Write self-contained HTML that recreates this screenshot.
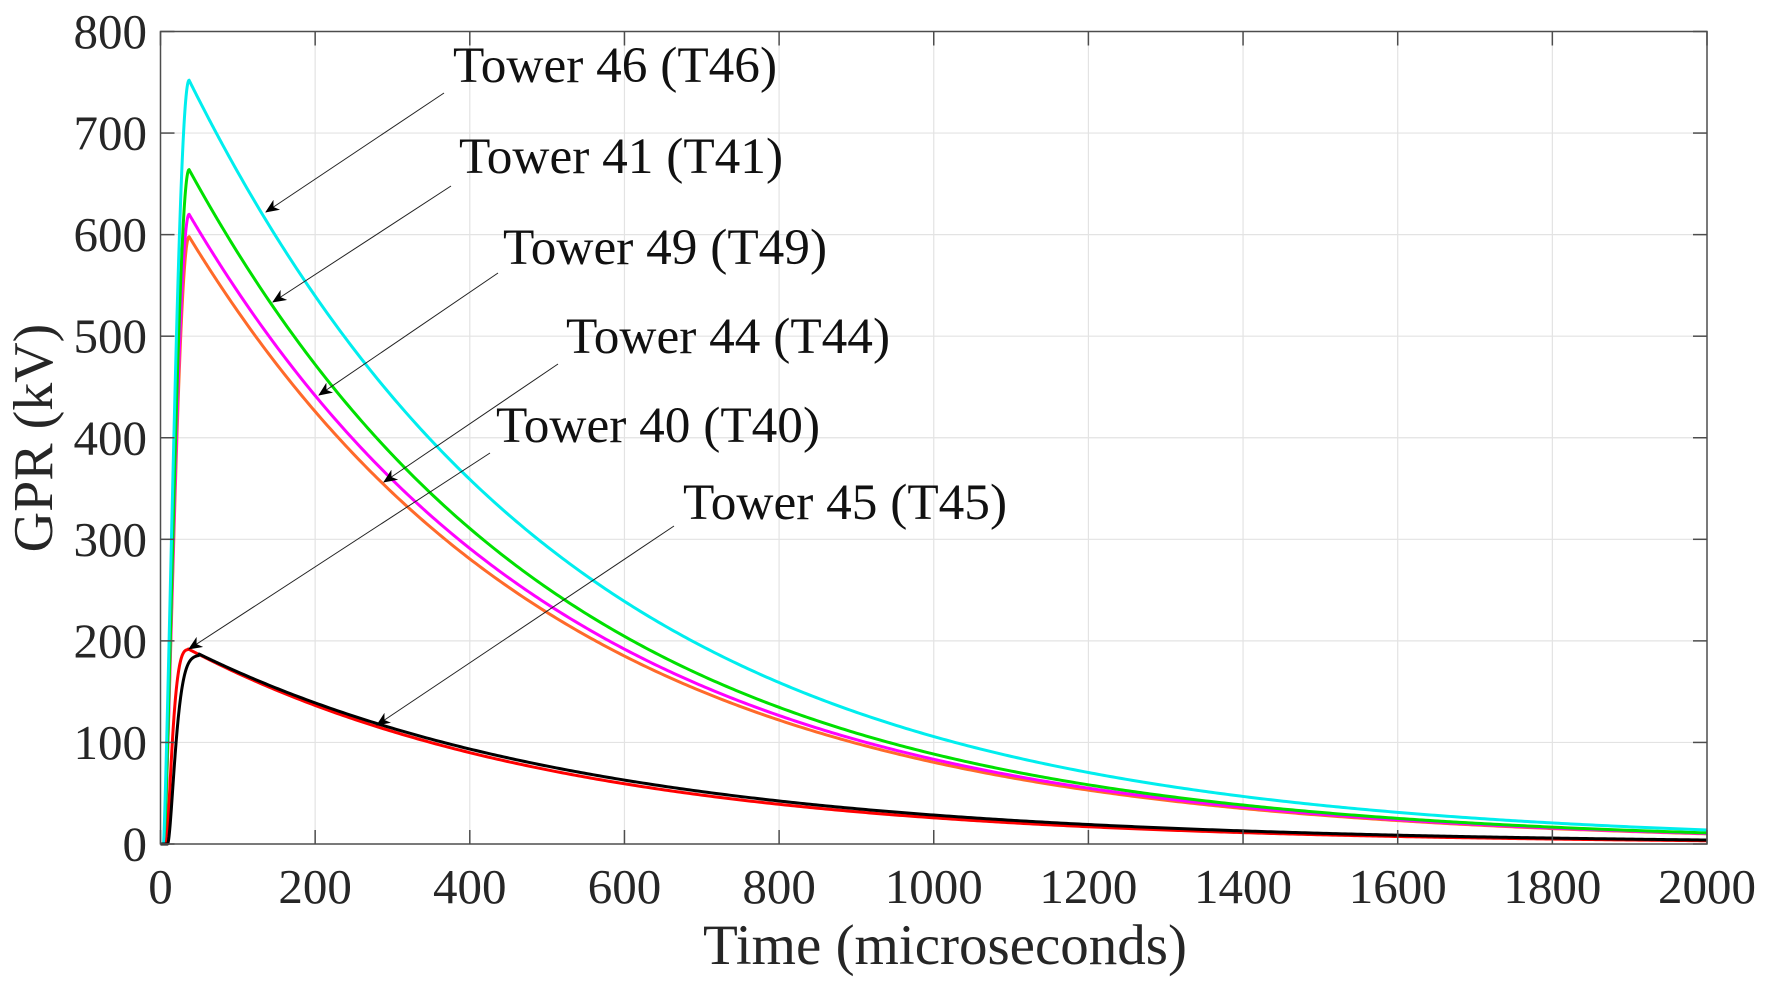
<!DOCTYPE html>
<html><head><meta charset="utf-8"><style>
html,body{margin:0;padding:0;background:#fff;}
svg{display:block;font-family:"Liberation Serif",serif;}
</style></head><body>
<svg id="s" width="1776" height="989" viewBox="0 0 1776 989" xmlns="http://www.w3.org/2000/svg">
<defs><marker id="ah" markerWidth="14" markerHeight="12" refX="13" refY="6" orient="auto" markerUnits="userSpaceOnUse">
<path d="M0,0 L14,6 L0,12 L4,6 Z" fill="#000"/></marker></defs>
<g id="grid" stroke="#e3e3e3" stroke-width="1.2"></g>
<g id="curves" fill="none" stroke-width="3" stroke-linejoin="round"></g>
<rect x="160.5" y="31.5" width="1546.5" height="812.5" fill="none" stroke="#4d4d4d" stroke-width="1.5"/>
<g id="ticks" stroke="#4d4d4d" stroke-width="1.5"></g>
<g id="labels" fill="#262626" font-size="49"></g>
<g stroke="#222" stroke-width="1" marker-end="url(#ah)">
<line x1="444" y1="93" x2="266" y2="212"/>
<line x1="451" y1="186" x2="273" y2="302"/>
<line x1="498" y1="273" x2="319" y2="395"/>
<line x1="558" y1="364" x2="384" y2="482"/>
<line x1="490" y1="453" x2="189" y2="649"/>
<line x1="674" y1="526" x2="377" y2="725"/>
</g>
<g fill="#111" font-size="51.3">
<text x="453" y="82">Tower 46 (T46)</text>
<text x="459" y="173">Tower 41 (T41)</text>
<text x="503" y="264">Tower 49 (T49)</text>
<text x="566" y="353">Tower 44 (T44)</text>
<text x="496" y="442">Tower 40 (T40)</text>
<text x="683" y="519">Tower 45 (T45)</text>
</g>
<text x="945" y="964" text-anchor="middle" font-size="57" fill="#262626">Time (microseconds)</text>
<text transform="translate(52,438) rotate(-90)" text-anchor="middle" font-size="56" fill="#262626">GPR (kV)</text>
</svg>
<script>
var X0=160.5,X1=1707,Y0=844,Y1=31.5,NS="http://www.w3.org/2000/svg";
function px(t){return X0+(X1-X0)*t/2000;}function py(v){return Y0-(Y0-Y1)*v/800;}
function el(p,tag,a,txt){var e=document.createElementNS(NS,tag);for(var k in a)e.setAttribute(k,a[k]);if(txt!=null)e.textContent=txt;document.getElementById(p).appendChild(e);}
for(var t=200;t<2000;t+=200)el("grid","line",{x1:px(t),x2:px(t),y1:Y1,y2:Y0});
for(var v=100;v<800;v+=100)el("grid","line",{x1:X0,x2:X1,y1:py(v),y2:py(v)});
for(var t=0;t<=2000;t+=200){el("ticks","line",{x1:px(t),x2:px(t),y1:Y0,y2:Y0-14});el("ticks","line",{x1:px(t),x2:px(t),y1:Y1,y2:Y1+14});
el("labels","text",{x:px(t),y:903,"text-anchor":"middle"},String(t));}
for(var v=0;v<=800;v+=100){el("ticks","line",{x1:X0,x2:X0+14,y1:py(v),y2:py(v)});el("ticks","line",{x1:X1,x2:X1-14,y1:py(v),y2:py(v)});
el("labels","text",{x:147,y:py(v)+16.5,"text-anchor":"end"},String(v));}
var S=[["#ff6a2a",598,5,37,480,1],["#ff00ff",620,5,37,480,1],["#00e000",664,5,37,478,1],["#00eeee",752,4,37,491,1],
["#ff0000",192,7,36,480,2],["#000000",187,9,50,505,3]];
S.forEach(function(s){var A=s[1],t0=s[2],tp=s[3],tau=s[4],m=s[5],d="";
for(var t=0;t<=2000;t+=(t<80?0.5:4)){var v;
if(t<t0)v=0;else if(t<tp){var u=(t-t0)/(tp-t0);
if(m==1)v=A*Math.pow(Math.sin(u*Math.PI/2),1.2);
else if(m==2)v=A*(1-Math.pow(1-u,3))*(1-Math.exp(-u*6));
else v=A*(1-Math.pow(1-u,4))*(1-Math.exp(-u*5));}
else v=A*Math.exp(-(t-tp)/tau);
d+=(d?"L":"M")+px(t).toFixed(2)+","+py(v).toFixed(2);}
el("curves","path",{d:d,stroke:s[0]});});
</script>
</body></html>
